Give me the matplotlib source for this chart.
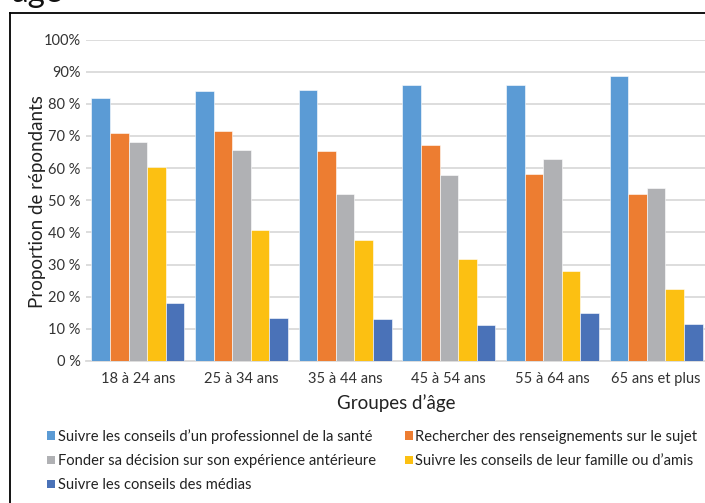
import matplotlib.pyplot as plt
from matplotlib.lines import Line2D
from matplotlib.patches import Patch
import numpy as np

plt.rcParams['font.family'] = ['Lato', 'DejaVu Sans']

groupes = ['18 à 24 ans', '25 à 34 ans', '35 à 44 ans', '45 à 54 ans', '55 à 64 ans', '65 ans et plus']
series = ['Suivre les conseils d\u2019un professionnel de la santé',
          'Rechercher des renseignements sur le sujet',
          'Fonder sa décision sur son expérience antérieure',
          'Suivre les conseils de leur famille ou d\u2019amis',
          'Suivre les conseils des médias']
professionnel = [81.9, 83.9, 84.2, 86.0, 85.9, 88.5]
renseignements = [71.0, 71.6, 65.2, 67.1, 58.1, 52.0]
experience = [68.2, 65.6, 51.9, 57.7, 62.9, 53.7]
famille = [60.2, 40.6, 37.6, 31.6, 28.0, 22.5]
medias = [18.0, 13.4, 13.0, 11.1, 15.0, 11.4]
yticks = [0, 10, 20, 30, 40, 50, 60, 70, 80, 90, 100]
ylabels = ['0 %', '10 %', '20 %', '30 %', '40 %', '50 %', '60 %', '70 %', '80 %', '90%', '100%']

couleurs = ['#5B9BD5', '#ED7D31', '#B0B1B4', '#FCC012', '#4A72B8']
valeurs = [professionnel, renseignements, experience, famille, medias]

W, H = 705, 503
fig = plt.figure(figsize=(W / 100, H / 100), dpi=100)
ax = fig.add_axes([86 / W, 1 - 361 / H, 622 / W, 321.5 / H])

x = np.arange(len(groupes))
largeur = 0.18
for i, (vals, c) in enumerate(zip(valeurs, couleurs)):
    ax.bar(x + (i - 2) * largeur, vals, largeur, color=c, edgecolor='white',
           linewidth=0.4, zorder=3)

ax.set_xlim(-0.5, 5.5)
ax.set_ylim(0, 100)
ax.set_yticks(yticks)
ax.set_yticklabels(ylabels, fontsize=10.5, color='#333333')
ax.set_xticks(x)
ax.set_xticklabels(groupes, fontsize=10.5, color='#333333')
ax.tick_params(length=0, pad=4)
ax.tick_params(axis='x', pad=8)
ax.grid(axis='y', color='#DADADA', linewidth=1.3, zorder=0)
for s in ['top', 'right', 'left']:
    ax.spines[s].set_visible(False)
ax.spines['bottom'].set_color('#DADADA')
ax.spines['bottom'].set_linewidth(1.3)

ax.set_ylabel('Proportion de répondants', fontsize=13.5, color='#222222')
ax.yaxis.set_label_coords(-40 / 622, 0.496)
ax.set_xlabel('Groupes d\u2019âge', fontsize=13.5, color='#222222')
ax.xaxis.set_label_coords(0.498, -33 / 321.5)

# légende en deux colonnes (remplie colonne par colonne)
ordre = [0, 2, 4, 1, 3]
handles = [Patch(facecolor=couleurs[k], edgecolor='none') for k in ordre]
labels = [series[k] for k in ordre]
fig.legend(handles, labels, ncol=2, loc='upper left',
           bbox_to_anchor=(34 / W, 1 - 416 / H), frameon=False,
           fontsize=10.6, handlelength=0.55, handleheight=0.55, handletextpad=0.15,
           columnspacing=2.0, labelspacing=0.68, labelcolor='#222222')

# cadre
fig.add_artist(Line2D([9.5 / W, 9.5 / W], [0, 1 - 12.5 / H], color='black', lw=1.3))
fig.add_artist(Line2D([9.5 / W, 1], [1 - 12.5 / H, 1 - 12.5 / H], color='black', lw=1.3))

fig.text(12 / W, 1 - 1.5 / H, 'âge', fontsize=24, va='baseline', ha='left', color='#111111')

fig.savefig('out.png', dpi=100)
